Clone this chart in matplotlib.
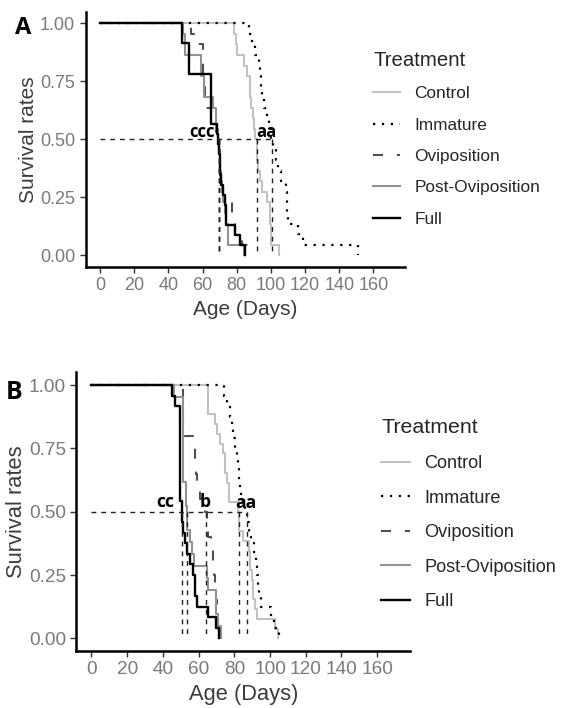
import matplotlib
matplotlib.use("Agg")
import matplotlib.pyplot as plt
from matplotlib.lines import Line2D

plt.rcParams['font.family'] = ['Liberation Sans', 'DejaVu Sans']

groups = ["Control", "Immature", "Oviposition", "Post-Oviposition", "Full"]

# panel A: event times (days) and survival after each event
control_a_t = [78.5, 79.5, 80, 84, 86, 87.5, 88, 88.5, 89.5, 90, 91, 92, 92.5, 93.5, 95, 97.5, 99.5, 100, 105]
control_a_s = [0.955, 0.909, 0.864, 0.818, 0.773, 0.727, 0.682, 0.636, 0.591, 0.545, 0.5, 0.409, 0.364, 0.318, 0.273, 0.227, 0.136, 0.045, 0]
immature_a_t = [87, 89, 91, 93, 93.7, 94.2, 95, 96, 97.5, 99, 100, 101, 103, 104, 106, 109, 109.5, 110, 116, 119, 151]
immature_a_s = [0.955, 0.909, 0.864, 0.818, 0.773, 0.727, 0.682, 0.636, 0.591, 0.545, 0.5, 0.455, 0.409, 0.364, 0.318, 0.273, 0.182, 0.136, 0.091, 0.045, 0]
ovi_a_t = [53, 57.5, 60, 61.5, 65, 68, 69.5, 70.5, 72, 77, 79, 83, 88.5]
ovi_a_s = [0.955, 0.909, 0.727, 0.636, 0.591, 0.5, 0.409, 0.318, 0.227, 0.182, 0.091, 0.045, 0]
post_a_t = [48.5, 49.5, 59, 61, 66, 68, 69, 69.5, 70, 70.5, 71, 71.5, 72, 73, 74, 75, 84]
post_a_s = [0.955, 0.864, 0.773, 0.682, 0.636, 0.545, 0.5, 0.455, 0.409, 0.364, 0.318, 0.273, 0.227, 0.182, 0.136, 0.045, 0]
full_a_t = [48, 52, 65, 68.5, 69, 69.5, 70, 70.5, 71, 72, 73, 73.5, 74, 79, 82, 85]
full_a_s = [0.913, 0.783, 0.565, 0.522, 0.478, 0.435, 0.391, 0.348, 0.304, 0.261, 0.217, 0.174, 0.130, 0.087, 0.043, 0]
medians_a = [92.0, 100.4, 69.8, 69.8, 69.8]
letters_a = [("ccc", 52, 0.51), ("aa", 91.5, 0.51)]

# panel B
control_b_t = [65, 69, 70.5, 72, 73.5, 75, 76, 77, 82.3, 82.8, 85, 88, 89, 89.7, 90.5, 91.5, 92.5, 102.8, 104.7]
control_b_s = [0.885, 0.846, 0.808, 0.769, 0.731, 0.654, 0.615, 0.538, 0.5, 0.423, 0.385, 0.346, 0.269, 0.231, 0.154, 0.115, 0.077, 0.038, 0]
immature_b_t = [74, 76, 77.5, 78.5, 79.5, 80.5, 81.5, 82, 82.5, 83, 84, 86, 87, 88.5, 89.5, 91, 92, 93, 93.5, 94, 95, 100.5, 102.5, 105]
immature_b_s = [0.958, 0.917, 0.875, 0.833, 0.792, 0.75, 0.708, 0.667, 0.625, 0.583, 0.542, 0.5, 0.458, 0.417, 0.375, 0.333, 0.292, 0.25, 0.208, 0.167, 0.125, 0.083, 0.042, 0]
ovi_b_t = [51, 51.5, 52, 57.5, 58, 58.5, 59, 61, 63.5, 64.5, 65.5, 67, 68, 68.5, 69, 70, 70.5, 71, 72]
ovi_b_s = [0.95, 0.85, 0.8, 0.75, 0.7, 0.65, 0.6, 0.55, 0.5, 0.45, 0.4, 0.35, 0.3, 0.25, 0.2, 0.15, 0.1, 0.05, 0]
post_b_t = [46, 51, 53, 53.5, 55, 56.5, 57.5, 64.5, 65, 69.5, 71, 72.5]
post_b_s = [0.952, 0.619, 0.524, 0.429, 0.381, 0.333, 0.286, 0.238, 0.19, 0.095, 0.048, 0]
full_b_t = [45, 47, 49.5, 50.5, 51.5, 52.5, 53.5, 55, 57, 58, 59, 65, 69.5, 71.5]
full_b_s = [0.958, 0.917, 0.542, 0.458, 0.417, 0.375, 0.333, 0.292, 0.25, 0.167, 0.125, 0.083, 0.042, 0]
medians_b = [82.4, 86.9, 64.3, 53.3, 50.8]
letters_b = [("cc", 36.5, 0.52), ("b", 60.8, 0.52), ("aa", 80.4, 0.515)]

xticks = [0, 20, 40, 60, 80, 100, 120, 140, 160]
yticks = [0, 0.25, 0.5, 0.75, 1.0]

colors = ['#c2c2c2', '#000000', '#505050', '#929292', '#000000']
styles = ['-', (0, (1, 3)), (0, (4.8, 6.7)), '-', '-']
widths = [1.5, 1.6, 1.5, 1.5, 1.7]


def draw_panel(ax, curves, medians, letters, scale, leg_anchor, spacing, tag, tag_pos):
    for (t, s), c, ls, lw in zip(curves, colors, styles, widths):
        ax.step([0] + t, [1.0] + s, where='post', color=c, linestyle=ls, linewidth=lw)
    # median lines
    ax.plot([0, max(medians)], [0.5, 0.5], color='#222222', linestyle=(0, (3.5, 3.5)), linewidth=1.0)
    for m in medians:
        ax.plot([m, m], [0.5, 0], color='#222222', linestyle=(0, (3.5, 3.5)), linewidth=1.0)
    for txt, x, y in letters:
        ax.text(x, y, txt, fontsize=12 * scale, fontweight='bold', family='Open Sans',
                ha='left', va='baseline', color='black')

    ax.set_xlim(-8.5, 178.5)
    ax.set_ylim(-0.05, 1.05)
    ax.set_xticks(xticks)
    ax.set_yticks(yticks)
    ax.set_yticklabels(['%.2f' % v for v in yticks])
    for sp in ['top', 'right']:
        ax.spines[sp].set_visible(False)
    for sp in ['left', 'bottom']:
        ax.spines[sp].set_linewidth(1.8)
        ax.spines[sp].set_color('black')
    ax.tick_params(length=4.5, width=1.0, color='#333333', labelcolor='#7a7a7a',
                   labelsize=13 * scale, pad=3)
    ax.set_xlabel('Age (Days)', fontsize=15 * scale, color='#3c3c3c', labelpad=4)
    ax.set_ylabel('Survival rates', fontsize=15 * scale, color='#3c3c3c', labelpad=1)

    handles = [Line2D([], [], color=c, linestyle=ls, linewidth=lw)
               for c, ls, lw in zip(colors, styles, widths)]
    leg = ax.legend(handles, groups, title='Treatment', loc='upper left',
                    bbox_to_anchor=leg_anchor, bbox_transform=ax.figure.transFigure,
                    frameon=False, borderpad=0, borderaxespad=0, handlelength=1.56,
                    handletextpad=0.83, labelspacing=spacing, fontsize=12.4 * scale,
                    title_fontsize=14.7 * scale, alignment='left')
    for t in leg.get_texts():
        t.set_color('#262626')
    leg.get_title().set_color('#262626')

    ax.figure.text(tag_pos[0], tag_pos[1], tag, fontsize=17 * scale, fontweight='bold',
                   family='Open Sans', ha='left', va='top')


fig = plt.figure(figsize=(5.7, 7.08), dpi=100)
ax_a = fig.add_axes([0.150, 0.6234, 0.5605, 0.360])
ax_b = fig.add_axes([0.1339, 0.0805, 0.5856, 0.3936])

curves_a = [(control_a_t, control_a_s), (immature_a_t, immature_a_s), (ovi_a_t, ovi_a_s),
            (post_a_t, post_a_s), (full_a_t, full_a_s)]
curves_b = [(control_b_t, control_b_s), (immature_b_t, immature_b_s), (ovi_b_t, ovi_b_s),
            (post_b_t, post_b_s), (full_b_t, full_b_s)]

draw_panel(ax_a, curves_a, medians_a, letters_a, 1.0, (0.6544, 0.928), 0.946, 'A', (0.026, 0.978))
draw_panel(ax_b, curves_b, medians_b, letters_b, 1.05, (0.669, 0.409), 0.97, 'B', (0.010, 0.463))

fig.savefig('out.png', dpi=100)
